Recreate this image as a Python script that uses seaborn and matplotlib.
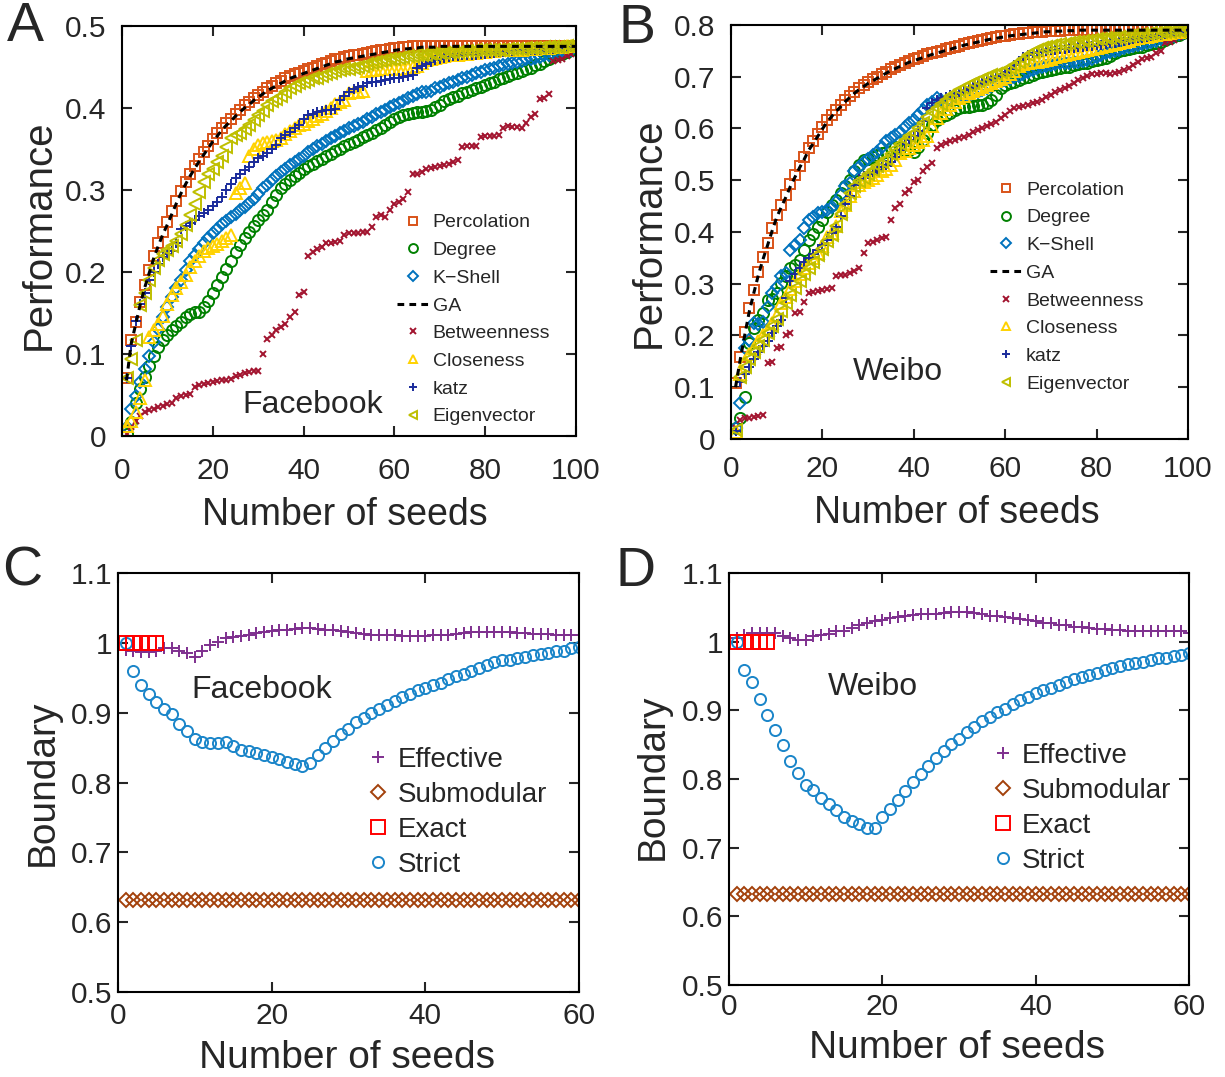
import numpy as np
import seaborn as sns
import matplotlib
matplotlib.use("Agg")
import matplotlib.pyplot as plt
from matplotlib.ticker import FuncFormatter

# ---- data: panel A (Facebook) and B (Weibo), seeds 1..100 ----
seeds_ab = list(range(1, 101))

perc_A = [0.071, 0.117, 0.139, 0.163, 0.184, 0.202, 0.220, 0.235, 0.249, 0.261,
          0.274, 0.287, 0.299, 0.310, 0.320, 0.329, 0.338, 0.346, 0.354, 0.362,
          0.369, 0.376, 0.382, 0.387, 0.393, 0.398, 0.403, 0.407, 0.412, 0.416,
          0.420, 0.424, 0.427, 0.430, 0.433, 0.436, 0.439, 0.441, 0.443, 0.445,
          0.447, 0.449, 0.451, 0.453, 0.455, 0.457, 0.459, 0.460, 0.462, 0.463,
          0.464, 0.465, 0.466, 0.467, 0.468, 0.469, 0.470, 0.471, 0.472, 0.473,
          0.473, 0.474, 0.474, 0.475, 0.475, 0.475, 0.475, 0.475, 0.475, 0.475,
          0.475, 0.475, 0.475, 0.475, 0.475, 0.475, 0.475, 0.475, 0.475, 0.475,
          0.475, 0.475, 0.475, 0.475, 0.475, 0.475, 0.475, 0.475, 0.475, 0.475,
          0.475, 0.475, 0.475, 0.475, 0.475, 0.476, 0.476, 0.476, 0.476, 0.476]
ga_A = [0.068, 0.112, 0.136, 0.160, 0.181, 0.199, 0.217, 0.232, 0.246, 0.258,
        0.271, 0.284, 0.296, 0.307, 0.317, 0.326, 0.335, 0.343, 0.351, 0.359,
        0.366, 0.373, 0.379, 0.384, 0.390, 0.395, 0.400, 0.404, 0.409, 0.413,
        0.417, 0.421, 0.424, 0.427, 0.430, 0.433, 0.436, 0.438, 0.440, 0.442,
        0.444, 0.446, 0.448, 0.450, 0.452, 0.454, 0.456, 0.457, 0.459, 0.460,
        0.461, 0.462, 0.463, 0.464, 0.465, 0.466, 0.467, 0.468, 0.469, 0.470,
        0.471, 0.472, 0.472, 0.473, 0.473, 0.474, 0.474, 0.474, 0.474, 0.475,
        0.475, 0.475, 0.475, 0.475, 0.475, 0.475, 0.475, 0.475, 0.475, 0.475,
        0.475, 0.475, 0.475, 0.475, 0.475, 0.475, 0.475, 0.475, 0.475, 0.475,
        0.475, 0.475, 0.475, 0.475, 0.475, 0.475, 0.475, 0.475, 0.475, 0.475]
deg_A = [0.003, 0.017, 0.041, 0.058, 0.072, 0.086, 0.098, 0.109, 0.117, 0.123,
         0.129, 0.134, 0.139, 0.145, 0.149, 0.151, 0.151, 0.157, 0.165, 0.174,
         0.184, 0.194, 0.204, 0.214, 0.224, 0.233, 0.241, 0.249, 0.256, 0.263,
         0.270, 0.276, 0.285, 0.294, 0.302, 0.307, 0.312, 0.317, 0.321, 0.325,
         0.329, 0.332, 0.335, 0.338, 0.341, 0.344, 0.347, 0.350, 0.353, 0.356,
         0.358, 0.361, 0.364, 0.367, 0.370, 0.373, 0.376, 0.379, 0.383, 0.386,
         0.389, 0.391, 0.393, 0.394, 0.395, 0.395, 0.396, 0.398, 0.401, 0.404,
         0.408, 0.411, 0.413, 0.415, 0.418, 0.420, 0.422, 0.424, 0.426, 0.428,
         0.430, 0.432, 0.435, 0.437, 0.439, 0.441, 0.443, 0.445, 0.447, 0.449,
         0.452, 0.454, 0.457, 0.459, 0.462, 0.464, 0.466, 0.468, 0.471, 0.473]
ks_A = [0.011, 0.033, 0.049, 0.066, 0.082, 0.098, 0.115, 0.131, 0.145, 0.157,
        0.170, 0.180, 0.190, 0.202, 0.213, 0.221, 0.228, 0.235, 0.241, 0.247,
        0.253, 0.258, 0.262, 0.267, 0.271, 0.275, 0.279, 0.284, 0.289, 0.295,
        0.302, 0.306, 0.312, 0.317, 0.322, 0.326, 0.330, 0.334, 0.338, 0.342,
        0.346, 0.350, 0.353, 0.356, 0.360, 0.363, 0.366, 0.369, 0.372, 0.375,
        0.378, 0.381, 0.383, 0.386, 0.389, 0.392, 0.395, 0.398, 0.401, 0.404,
        0.406, 0.409, 0.412, 0.415, 0.417, 0.419, 0.420, 0.421, 0.424, 0.426,
        0.428, 0.430, 0.432, 0.434, 0.436, 0.438, 0.440, 0.442, 0.444, 0.446,
        0.448, 0.449, 0.451, 0.452, 0.453, 0.455, 0.456, 0.457, 0.459, 0.460,
        0.461, 0.462, 0.464, 0.465, 0.466, 0.467, 0.469, 0.470, 0.471, 0.473]
btw_A = [0.003, 0.011, 0.019, 0.025, 0.029, 0.032, 0.033, 0.035, 0.037, 0.039,
         0.041, 0.046, 0.049, 0.050, 0.051, 0.060, 0.062, 0.064, 0.065, 0.066,
         0.067, 0.068, 0.069, 0.070, 0.073, 0.075, 0.077, 0.078, 0.079, 0.080,
         0.100, 0.119, 0.123, 0.129, 0.133, 0.137, 0.145, 0.151, 0.172, 0.176,
         0.220, 0.224, 0.228, 0.231, 0.235, 0.236, 0.237, 0.238, 0.245, 0.247,
         0.247, 0.247, 0.249, 0.249, 0.255, 0.267, 0.269, 0.267, 0.275, 0.283,
         0.285, 0.289, 0.298, 0.319, 0.320, 0.322, 0.326, 0.327, 0.328, 0.329,
         0.331, 0.332, 0.334, 0.337, 0.352, 0.354, 0.354, 0.354, 0.364, 0.366,
         0.366, 0.366, 0.367, 0.376, 0.378, 0.377, 0.377, 0.376, 0.382, 0.389,
         0.393, 0.411, 0.412, 0.417, 0.457, 0.458, 0.460, 0.463, 0.466, 0.472]
clo_A = [0.013, 0.019, 0.030, 0.047, 0.068, 0.121, 0.129, 0.137, 0.147, 0.161,
         0.172, 0.180, 0.188, 0.196, 0.206, 0.214, 0.220, 0.226, 0.229, 0.232,
         0.234, 0.238, 0.241, 0.245, 0.296, 0.303, 0.309, 0.342, 0.350, 0.355,
         0.357, 0.359, 0.360, 0.361, 0.363, 0.368, 0.372, 0.376, 0.379, 0.381,
         0.384, 0.387, 0.390, 0.393, 0.396, 0.400, 0.405, 0.407, 0.410, 0.418,
         0.419, 0.420, 0.421, 0.445, 0.446, 0.446, 0.447, 0.447, 0.447, 0.448,
         0.448, 0.448, 0.449, 0.450, 0.451, 0.455, 0.458, 0.460, 0.461, 0.462,
         0.463, 0.464, 0.465, 0.465, 0.466, 0.466, 0.467, 0.467, 0.468, 0.468,
         0.469, 0.469, 0.470, 0.470, 0.470, 0.471, 0.471, 0.471, 0.472, 0.472,
         0.472, 0.473, 0.473, 0.473, 0.474, 0.474, 0.474, 0.475, 0.475, 0.475]
katz_A = [0.071, 0.110, 0.140, 0.161, 0.175, 0.190, 0.200, 0.210, 0.218, 0.222,
          0.226, 0.235, 0.252, 0.256, 0.260, 0.264, 0.268, 0.272, 0.276, 0.280,
          0.285, 0.292, 0.300, 0.307, 0.314, 0.320, 0.324, 0.328, 0.334, 0.339,
          0.342, 0.345, 0.350, 0.355, 0.363, 0.367, 0.371, 0.375, 0.379, 0.386,
          0.391, 0.393, 0.395, 0.396, 0.397, 0.398, 0.399, 0.410, 0.415, 0.420,
          0.423, 0.425, 0.427, 0.430, 0.431, 0.432, 0.433, 0.434, 0.435, 0.436,
          0.437, 0.438, 0.439, 0.440, 0.449, 0.451, 0.453, 0.456, 0.458, 0.460,
          0.461, 0.462, 0.463, 0.463, 0.464, 0.464, 0.465, 0.465, 0.466, 0.466,
          0.467, 0.467, 0.468, 0.468, 0.469, 0.469, 0.470, 0.470, 0.470, 0.471,
          0.471, 0.471, 0.472, 0.472, 0.472, 0.473, 0.473, 0.474, 0.474, 0.475]
eig_A = [0.071, 0.094, 0.117, 0.160, 0.174, 0.190, 0.205, 0.215, 0.222, 0.227,
         0.232, 0.238, 0.246, 0.257, 0.270, 0.283, 0.297, 0.310, 0.320, 0.326,
         0.334, 0.342, 0.352, 0.363, 0.367, 0.370, 0.374, 0.379, 0.385, 0.391,
         0.396, 0.403, 0.408, 0.411, 0.414, 0.419, 0.424, 0.427, 0.430, 0.432,
         0.434, 0.436, 0.437, 0.439, 0.441, 0.443, 0.445, 0.446, 0.447, 0.448,
         0.449, 0.450, 0.451, 0.453, 0.455, 0.456, 0.457, 0.458, 0.459, 0.460,
         0.461, 0.462, 0.463, 0.463, 0.464, 0.465, 0.465, 0.466, 0.466, 0.467,
         0.467, 0.468, 0.468, 0.468, 0.469, 0.469, 0.469, 0.470, 0.470, 0.470,
         0.471, 0.471, 0.471, 0.471, 0.472, 0.472, 0.472, 0.472, 0.473, 0.473,
         0.473, 0.473, 0.474, 0.474, 0.474, 0.474, 0.474, 0.475, 0.475, 0.475]

perc_B = [0.108, 0.159, 0.207, 0.253, 0.288, 0.323, 0.352, 0.379, 0.407, 0.433,
          0.452, 0.471, 0.492, 0.510, 0.528, 0.544, 0.562, 0.575, 0.589, 0.603,
          0.616, 0.626, 0.636, 0.645, 0.655, 0.663, 0.671, 0.678, 0.684, 0.690,
          0.695, 0.700, 0.705, 0.710, 0.715, 0.719, 0.723, 0.727, 0.731, 0.734,
          0.737, 0.740, 0.743, 0.745, 0.748, 0.750, 0.753, 0.755, 0.758, 0.760,
          0.763, 0.765, 0.767, 0.769, 0.771, 0.773, 0.775, 0.776, 0.778, 0.779,
          0.781, 0.782, 0.783, 0.784, 0.785, 0.786, 0.787, 0.787, 0.788, 0.788,
          0.789, 0.789, 0.790, 0.790, 0.790, 0.790, 0.790, 0.790, 0.790, 0.790,
          0.790, 0.790, 0.790, 0.790, 0.790, 0.790, 0.790, 0.790, 0.790, 0.790,
          0.790, 0.790, 0.790, 0.790, 0.790, 0.790, 0.790, 0.791, 0.791, 0.791]
ga_B = [0.100, 0.152, 0.200, 0.246, 0.282, 0.317, 0.347, 0.374, 0.402, 0.428,
        0.448, 0.467, 0.488, 0.506, 0.524, 0.540, 0.558, 0.571, 0.585, 0.599,
        0.612, 0.623, 0.633, 0.642, 0.652, 0.660, 0.668, 0.675, 0.681, 0.687,
        0.692, 0.697, 0.702, 0.707, 0.712, 0.716, 0.720, 0.724, 0.728, 0.731,
        0.734, 0.737, 0.740, 0.743, 0.746, 0.748, 0.751, 0.753, 0.756, 0.758,
        0.761, 0.763, 0.765, 0.767, 0.769, 0.771, 0.773, 0.774, 0.776, 0.777,
        0.779, 0.780, 0.781, 0.782, 0.783, 0.784, 0.785, 0.786, 0.787, 0.787,
        0.788, 0.788, 0.789, 0.789, 0.789, 0.790, 0.790, 0.790, 0.790, 0.790,
        0.790, 0.790, 0.790, 0.790, 0.790, 0.790, 0.790, 0.790, 0.790, 0.790,
        0.790, 0.790, 0.790, 0.790, 0.790, 0.790, 0.790, 0.790, 0.790, 0.790]
deg_B = [0.021, 0.040, 0.082, 0.185, 0.214, 0.230, 0.243, 0.269, 0.271, 0.282,
         0.301, 0.314, 0.330, 0.336, 0.346, 0.365, 0.385, 0.397, 0.410, 0.423,
         0.439, 0.452, 0.462, 0.475, 0.488, 0.500, 0.517, 0.529, 0.539, 0.542,
         0.545, 0.548, 0.552, 0.555, 0.562, 0.565, 0.562, 0.558, 0.558, 0.555,
         0.565, 0.578, 0.591, 0.607, 0.616, 0.623, 0.626, 0.629, 0.636, 0.639,
         0.641, 0.642, 0.643, 0.645, 0.645, 0.649, 0.655, 0.665, 0.678, 0.684,
         0.687, 0.690, 0.694, 0.697, 0.700, 0.703, 0.707, 0.710, 0.712, 0.713,
         0.715, 0.716, 0.718, 0.719, 0.722, 0.724, 0.726, 0.727, 0.730, 0.732,
         0.735, 0.737, 0.741, 0.745, 0.749, 0.752, 0.754, 0.755, 0.757, 0.758,
         0.761, 0.763, 0.766, 0.768, 0.771, 0.774, 0.778, 0.781, 0.785, 0.789]
ks_B = [0.021, 0.069, 0.175, 0.191, 0.224, 0.222, 0.226, 0.256, 0.282, 0.294,
        0.314, 0.320, 0.365, 0.375, 0.384, 0.407, 0.423, 0.429, 0.436, 0.439,
        0.442, 0.449, 0.458, 0.471, 0.488, 0.494, 0.517, 0.526, 0.536, 0.542,
        0.548, 0.555, 0.565, 0.575, 0.581, 0.587, 0.594, 0.603, 0.610, 0.617,
        0.626, 0.636, 0.645, 0.652, 0.658, 0.655, 0.652, 0.655, 0.658, 0.661,
        0.663, 0.665, 0.668, 0.671, 0.675, 0.678, 0.682, 0.687, 0.690, 0.694,
        0.696, 0.699, 0.702, 0.705, 0.709, 0.713, 0.716, 0.719, 0.721, 0.723,
        0.725, 0.726, 0.727, 0.727, 0.728, 0.729, 0.730, 0.732, 0.735, 0.739,
        0.742, 0.745, 0.747, 0.750, 0.752, 0.755, 0.757, 0.759, 0.761, 0.763,
        0.765, 0.768, 0.770, 0.772, 0.775, 0.777, 0.779, 0.782, 0.785, 0.789]
btw_B = [0.021, 0.037, 0.040, 0.041, 0.042, 0.044, 0.046, 0.146, 0.148, 0.175,
         0.178, 0.201, 0.204, 0.243, 0.245, 0.265, 0.282, 0.284, 0.285, 0.287,
         0.289, 0.291, 0.315, 0.317, 0.317, 0.320, 0.325, 0.330, 0.359, 0.378,
         0.381, 0.385, 0.388, 0.391, 0.423, 0.446, 0.455, 0.475, 0.481, 0.497,
         0.500, 0.517, 0.526, 0.533, 0.562, 0.568, 0.571, 0.575, 0.578, 0.581,
         0.583, 0.587, 0.594, 0.597, 0.600, 0.605, 0.609, 0.613, 0.620, 0.626,
         0.633, 0.639, 0.641, 0.643, 0.645, 0.649, 0.652, 0.656, 0.660, 0.665,
         0.671, 0.674, 0.679, 0.682, 0.687, 0.694, 0.697, 0.701, 0.705, 0.706,
         0.708, 0.708, 0.706, 0.708, 0.710, 0.713, 0.716, 0.723, 0.729, 0.734,
         0.736, 0.739, 0.745, 0.750, 0.765, 0.768, 0.771, 0.777, 0.782, 0.789]
clo_B = [0.014, 0.125, 0.150, 0.165, 0.175, 0.190, 0.200, 0.210, 0.225, 0.240,
         0.262, 0.275, 0.290, 0.305, 0.318, 0.330, 0.340, 0.350, 0.360, 0.372,
         0.390, 0.398, 0.412, 0.440, 0.452, 0.470, 0.480, 0.490, 0.497, 0.500,
         0.505, 0.510, 0.517, 0.522, 0.530, 0.540, 0.552, 0.556, 0.562, 0.568,
         0.573, 0.577, 0.585, 0.605, 0.620, 0.630, 0.638, 0.645, 0.652, 0.658,
         0.663, 0.668, 0.672, 0.676, 0.680, 0.684, 0.688, 0.692, 0.696, 0.700,
         0.705, 0.712, 0.720, 0.725, 0.727, 0.728, 0.729, 0.730, 0.732, 0.735,
         0.738, 0.740, 0.742, 0.744, 0.746, 0.748, 0.750, 0.752, 0.754, 0.756,
         0.758, 0.760, 0.762, 0.764, 0.766, 0.768, 0.770, 0.772, 0.774, 0.776,
         0.777, 0.779, 0.780, 0.782, 0.783, 0.785, 0.786, 0.787, 0.788, 0.790]
katz_B = [0.015, 0.110, 0.125, 0.140, 0.155, 0.168, 0.180, 0.190, 0.205, 0.218,
          0.230, 0.272, 0.305, 0.318, 0.330, 0.342, 0.350, 0.358, 0.366, 0.375,
          0.385, 0.398, 0.410, 0.430, 0.455, 0.470, 0.490, 0.502, 0.508, 0.512,
          0.515, 0.520, 0.525, 0.530, 0.535, 0.545, 0.558, 0.570, 0.578, 0.585,
          0.595, 0.615, 0.640, 0.650, 0.655, 0.658, 0.661, 0.664, 0.667, 0.670,
          0.674, 0.678, 0.682, 0.686, 0.690, 0.694, 0.698, 0.702, 0.706, 0.710,
          0.715, 0.722, 0.730, 0.738, 0.742, 0.745, 0.747, 0.748, 0.750, 0.751,
          0.752, 0.753, 0.754, 0.755, 0.756, 0.757, 0.758, 0.759, 0.760, 0.761,
          0.762, 0.763, 0.765, 0.766, 0.768, 0.769, 0.771, 0.772, 0.774, 0.775,
          0.777, 0.778, 0.780, 0.781, 0.783, 0.784, 0.786, 0.787, 0.788, 0.790]
eig_B = [0.018, 0.120, 0.140, 0.155, 0.168, 0.180, 0.192, 0.205, 0.218, 0.232,
         0.248, 0.262, 0.278, 0.292, 0.305, 0.318, 0.330, 0.342, 0.355, 0.368,
         0.382, 0.395, 0.412, 0.435, 0.455, 0.475, 0.488, 0.498, 0.505, 0.512,
         0.520, 0.528, 0.535, 0.542, 0.550, 0.560, 0.570, 0.578, 0.585, 0.592,
         0.600, 0.610, 0.622, 0.632, 0.640, 0.648, 0.655, 0.662, 0.668, 0.674,
         0.679, 0.684, 0.688, 0.692, 0.696, 0.700, 0.703, 0.706, 0.709, 0.712,
         0.716, 0.722, 0.728, 0.735, 0.742, 0.748, 0.752, 0.755, 0.757, 0.759,
         0.761, 0.763, 0.764, 0.766, 0.767, 0.768, 0.769, 0.770, 0.771, 0.772,
         0.773, 0.774, 0.775, 0.776, 0.777, 0.778, 0.779, 0.780, 0.781, 0.782,
         0.783, 0.784, 0.785, 0.786, 0.787, 0.787, 0.788, 0.788, 0.789, 0.790]

# ---- data: panel C (Facebook) and D (Weibo), seeds 1..60 ----
seeds_cd = list(range(1, 61))
exact_seeds = [1, 2, 3, 4, 5]
exact_C = [1.0, 1.0, 1.0, 1.0, 1.0]
exact_D = [1.0, 1.0, 1.0, 1.0, 1.0]
submod_C = [0.632] * 60
submod_D = [0.632] * 60

eff_C = [0.990, 0.988, 0.987, 0.987, 0.988, 0.992, 0.993, 0.988, 0.985, 0.980,
         0.988, 0.997, 1.002, 1.007, 1.009, 1.010, 1.012, 1.014, 1.015, 1.017,
         1.018, 1.019, 1.020, 1.021, 1.021, 1.020, 1.019, 1.018, 1.017, 1.015,
         1.014, 1.013, 1.012, 1.011, 1.011, 1.011, 1.010, 1.010, 1.010, 1.010,
         1.011, 1.012, 1.012, 1.013, 1.014, 1.015, 1.015, 1.016, 1.016, 1.015,
         1.015, 1.014, 1.014, 1.013, 1.013, 1.013, 1.012, 1.012, 1.012, 1.012]
strict_C = [1.000, 0.960, 0.940, 0.927, 0.916, 0.906, 0.898, 0.884, 0.874, 0.862,
            0.858, 0.857, 0.857, 0.858, 0.853, 0.847, 0.845, 0.843, 0.839, 0.837,
            0.834, 0.830, 0.827, 0.824, 0.828, 0.839, 0.850, 0.860, 0.869, 0.877,
            0.886, 0.893, 0.899, 0.905, 0.911, 0.917, 0.923, 0.927, 0.932, 0.936,
            0.940, 0.943, 0.948, 0.952, 0.956, 0.960, 0.964, 0.969, 0.972, 0.975,
            0.976, 0.979, 0.980, 0.982, 0.984, 0.985, 0.988, 0.989, 0.992, 0.994]
eff_D = [1.005, 1.010, 1.012, 1.012, 1.012, 1.012, 1.008, 1.005, 1.003, 1.002,
         1.008, 1.010, 1.011, 1.015, 1.016, 1.020, 1.024, 1.028, 1.030, 1.032,
         1.034, 1.036, 1.037, 1.039, 1.040, 1.040, 1.041, 1.042, 1.043, 1.044,
         1.043, 1.042, 1.040, 1.038, 1.037, 1.036, 1.035, 1.033, 1.032, 1.030,
         1.028, 1.027, 1.025, 1.024, 1.022, 1.021, 1.020, 1.019, 1.018, 1.017,
         1.017, 1.016, 1.016, 1.015, 1.015, 1.015, 1.015, 1.015, 1.015, 1.013]
strict_D = [1.000, 0.959, 0.942, 0.916, 0.894, 0.872, 0.849, 0.826, 0.809, 0.791,
            0.784, 0.773, 0.763, 0.755, 0.745, 0.739, 0.734, 0.728, 0.728, 0.744,
            0.757, 0.770, 0.783, 0.796, 0.807, 0.819, 0.830, 0.841, 0.851, 0.859,
            0.868, 0.876, 0.884, 0.891, 0.897, 0.902, 0.909, 0.915, 0.920, 0.925,
            0.929, 0.933, 0.937, 0.942, 0.945, 0.949, 0.952, 0.955, 0.959, 0.962,
            0.964, 0.967, 0.969, 0.971, 0.973, 0.976, 0.977, 0.979, 0.981, 0.983]

xticks_ab = [0, 20, 40, 60, 80, 100]
yticks_A = [0, 0.1, 0.2, 0.3, 0.4, 0.5]
yticks_B = [0, 0.1, 0.2, 0.3, 0.4, 0.5, 0.6, 0.7, 0.8]
xticks_cd = [0, 20, 40, 60]
yticks_cd = [0.5, 0.6, 0.7, 0.8, 0.9, 1.0, 1.1]

# styles
colors = {
    "Percolation": "#D95319", "Degree": "#008000", "K\u2212Shell": "#0072BD",
    "GA": "black", "Betweenness": "#A2142F", "Closeness": "#FFD200",
    "katz": "#1A2B9B", "Eigenvector": "#BFBF00",
    "Effective": "#7E2F8E", "Submodular": "#A3410B", "Exact": "#FF0000",
    "Strict": "#1A85C9",
}
markers = {
    "Percolation": "s", "Degree": "o", "K\u2212Shell": "D", "Betweenness": "x",
    "Closeness": "^", "katz": "+", "Eigenvector": "<",
    "Effective": "+", "Submodular": "D", "Exact": "s", "Strict": "o",
}
msizes = {
    "Percolation": 7, "Degree": 8, "K\u2212Shell": 6, "Betweenness": 5,
    "Closeness": 8, "katz": 7, "Eigenvector": 8,
    "Effective": 8, "Submodular": 7, "Exact": 10, "Strict": 8,
}

sns.set_style("ticks")
plt.rcParams["font.family"] = ["Liberation Sans", "DejaVu Sans"]
plt.rcParams["axes.linewidth"] = 1.5

fig = plt.figure(figsize=(12.25, 10.77), dpi=100)
ax_a = fig.add_axes([0.0996, 0.595, 0.3706, 0.381])
ax_b = fig.add_axes([0.5967, 0.5924, 0.3731, 0.3844])
ax_c = fig.add_axes([0.0963, 0.0789, 0.3763, 0.389])
ax_d = fig.add_axes([0.5951, 0.0854, 0.3755, 0.3825])


def draw(ax, x, y, name, lw=0, ls="none", marker=None):
    c = colors[name]
    mk = markers.get(name) if marker is None else marker
    sns.lineplot(x=x, y=y, ax=ax, color=c, marker=mk, linestyle=ls, linewidth=lw,
                 markersize=msizes.get(name, 7), markerfacecolor="none",
                 markeredgecolor=c, markeredgewidth=1.4, label=name,
                 errorbar=None, sort=False, legend=False)


def style(ax, xticks, yticks, xlim, ylim, xpad, ypad):
    ax.set_xlim(*xlim)
    ax.set_ylim(*ylim)
    ax.set_xticks(xticks)
    ax.set_yticks(yticks)
    fmt = FuncFormatter(lambda v, p: "%g" % round(v, 2))
    ax.xaxis.set_major_formatter(fmt)
    ax.yaxis.set_major_formatter(fmt)
    ax.tick_params(direction="in", length=7, width=1.5, top=True, right=True,
                   labelsize=21.5)
    ax.tick_params(axis="x", pad=xpad)
    ax.tick_params(axis="y", pad=ypad)
    ax.minorticks_off()
    for sp in ax.spines.values():
        sp.set_linewidth(1.5)
        sp.set_color("black")


order_ab = ["Percolation", "Degree", "K\u2212Shell", "GA", "Betweenness",
            "Closeness", "katz", "Eigenvector"]

for ax, data, name in [
    (ax_a, [perc_A, deg_A, ks_A, ga_A, btw_A, clo_A, katz_A, eig_A], "Facebook"),
    (ax_b, [perc_B, deg_B, ks_B, ga_B, btw_B, clo_B, katz_B, eig_B], "Weibo"),
]:
    for lab, vals in zip(order_ab, data):
        if lab == "GA":
            continue
        draw(ax, seeds_ab, vals, lab)
    sns.lineplot(x=seeds_ab, y=data[3], ax=ax, color="black", linestyle="--",
                 linewidth=2.2, dashes=False, label="GA", errorbar=None,
                 sort=False, legend=False)
    ax.lines[-1].set_dashes([2.2, 1.7])
    if name == "Facebook":
        style(ax, xticks_ab, yticks_A, (0, 100), (0, 0.5), 15, 11)
    else:
        style(ax, xticks_ab, yticks_B, (0, 100), (0, 0.8), 11.5, 11)
    ax.set_xlabel("Number of seeds", fontsize=27)
    ax.set_ylabel("Performance", fontsize=29)

ax_a.text(42, 0.038, "Facebook", fontsize=23, ha="center", va="center")
ax_b.text(36.5, 0.129, "Weibo", fontsize=23, ha="center", va="center")

order_cd = ["Effective", "Submodular", "Exact", "Strict"]
for ax, eff, sub, ex, st, name in [
    (ax_c, eff_C, submod_C, exact_C, strict_C, "Facebook"),
    (ax_d, eff_D, submod_D, exact_D, strict_D, "Weibo"),
]:
    draw(ax, seeds_cd, sub, "Submodular")
    draw(ax, seeds_cd, eff, "Effective")
    draw(ax, seeds_cd, st, "Strict")
    draw(ax, exact_seeds, ex, "Exact")
    if name == "Facebook":
        style(ax, xticks_cd, yticks_cd, (0, 60), (0.5, 1.1), 7.5, 4)
    else:
        style(ax, xticks_cd, yticks_cd, (0, 60), (0.5, 1.1), 5.5, 4)
    ax.set_xlabel("Number of seeds", fontsize=28)
    ax.set_ylabel("Boundary", fontsize=28)

ax_c.text(18.7, 0.932, "Facebook", fontsize=23, ha="center", va="center")
ax_d.text(18.8, 0.934, "Weibo", fontsize=23, ha="center", va="center")


def make_legend(ax, order, anchor, fs, hl, spacing, mscale):
    h, l = ax.get_legend_handles_labels()
    lookup = dict(zip(l, h))
    ax.legend([lookup[k] for k in order], order, loc="upper left",
              bbox_to_anchor=anchor, frameon=False, fontsize=fs,
              handlelength=hl, handletextpad=0.2, labelspacing=spacing,
              borderpad=0, borderaxespad=0, markerscale=mscale)


make_legend(ax_a, order_ab, (0.605, 0.542), 14, 1.65, 0.52, 0.8)
make_legend(ax_b, order_ab, (0.567, 0.623), 14, 1.65, 0.52, 0.8)
make_legend(ax_c, order_cd, (0.534, 0.585), 20, 1.0, 0.32, 1.0)
make_legend(ax_d, order_cd, (0.565, 0.587), 20, 1.0, 0.32, 1.0)

# axis label placement
ax_a.xaxis.set_label_coords(0.49, -0.147)
ax_b.xaxis.set_label_coords(0.495, -0.135)
ax_c.xaxis.set_label_coords(0.497, -0.115)
ax_d.xaxis.set_label_coords(0.496, -0.11)
ax_a.yaxis.set_label_coords(-0.141, 0.49)
ax_b.yaxis.set_label_coords(-0.138, 0.498)
ax_c.yaxis.set_label_coords(-0.124, 0.499)
ax_d.yaxis.set_label_coords(-0.126, 0.505)

for lab, x, y in [("A", 0.0204, 0.975), ("B", 0.52, 0.973),
                  ("C", 0.018, 0.469), ("D", 0.519, 0.469)]:
    fig.text(x, y, lab, fontsize=40, ha="center", va="center")

fig.savefig("out.png", dpi=100)
